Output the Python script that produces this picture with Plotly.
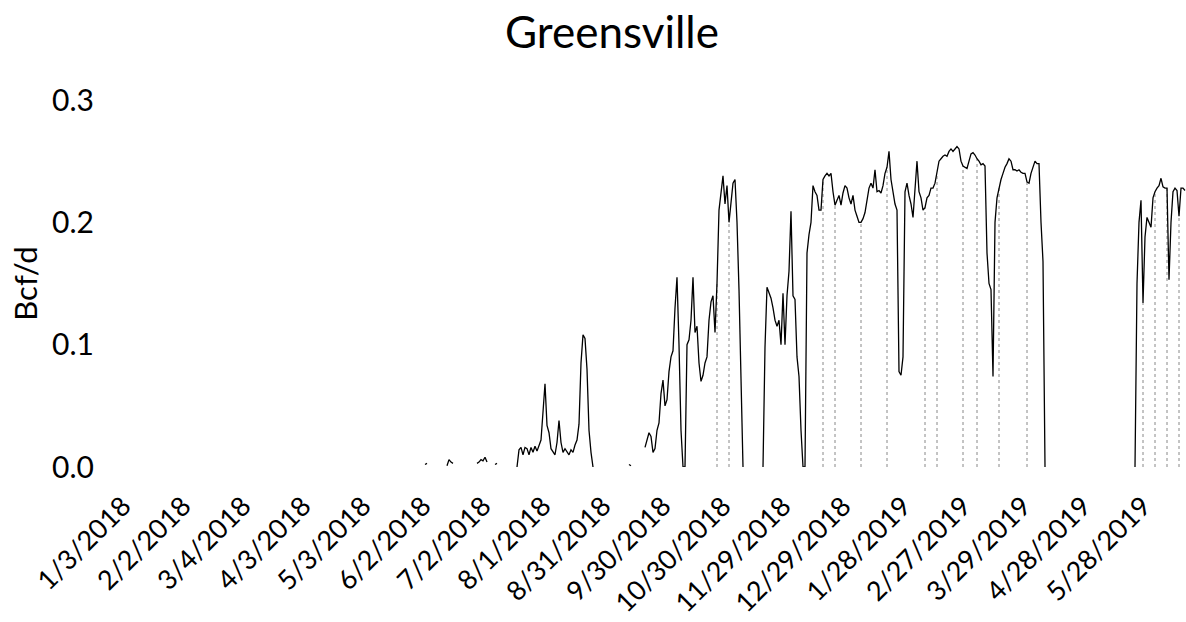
import pandas as pd
import plotly.graph_objects as go

# ---- daily Greensville flow (Bcf/d); each run listed from its first day ----
run_jun_a_start = "2018-06-03"
run_jun_a = [0.002, 0.003]
run_jun_b_start = "2018-06-14"
run_jun_b = [0.001, 0.006, 0.004, 0.003]
run_jun_c_start = "2018-06-29"
run_jun_c = [0.003, 0.004, 0.006, 0.005, 0.008, 0.004]
run_jul_a_start = "2018-07-08"
run_jul_a = [0.002, 0.003]

run_jul_aug_start = "2018-07-19"
run_jul_aug = [0.0, 0.014, 0.016, 0.010, 0.016, 0.015, 0.010, 0.016, 0.012, 0.017,
               0.013, 0.018, 0.022, 0.045, 0.068, 0.034, 0.028, 0.015, 0.012, 0.010,
               0.020, 0.038, 0.020, 0.012, 0.015, 0.012, 0.010, 0.014, 0.012, 0.018,
               0.022, 0.035, 0.085, 0.108, 0.105, 0.080, 0.030, 0.012, 0.0]

run_sep_a_start = "2018-09-13"
run_sep_a = [0.002, 0.001]

run_sep_oct_start = "2018-09-21"
run_sep_oct = [0.016, 0.022, 0.028, 0.025, 0.012, 0.015, 0.030, 0.036, 0.060, 0.071,
               0.050, 0.055, 0.078, 0.090, 0.095, 0.130, 0.155, 0.100, 0.030, 0.0,
               0.0, 0.100, 0.104, 0.120, 0.155, 0.110, 0.115, 0.085, 0.070, 0.075,
               0.085, 0.090, 0.120, 0.135, 0.140, 0.110, 0.150, 0.210, 0.225, 0.238,
               0.215, 0.230, 0.200, 0.215, 0.232, 0.235, 0.200, 0.145, 0.060, 0.0]

run_nov_mar_start = "2018-11-19"
run_nov_mar = [0.0, 0.098, 0.147, 0.142, 0.138, 0.130, 0.120, 0.115, 0.120, 0.100,
               0.142, 0.100, 0.140, 0.160, 0.209, 0.140, 0.137, 0.090, 0.074, 0.030,
               0.0, 0.0, 0.175, 0.190, 0.200, 0.230, 0.225, 0.222, 0.210, 0.210,
               0.235, 0.238, 0.240, 0.238, 0.240, 0.225, 0.214, 0.218, 0.222, 0.214,
               0.224, 0.230, 0.228, 0.220, 0.215, 0.222, 0.210, 0.205, 0.200, 0.200,
               0.203, 0.208, 0.220, 0.228, 0.232, 0.228, 0.243, 0.225, 0.226, 0.224,
               0.230, 0.240, 0.245, 0.258, 0.235, 0.225, 0.215, 0.210, 0.078, 0.075,
               0.090, 0.225, 0.232, 0.222, 0.215, 0.204, 0.228, 0.250, 0.225, 0.220,
               0.210, 0.212, 0.220, 0.222, 0.228, 0.228, 0.232, 0.240, 0.250, 0.252,
               0.254, 0.255, 0.254, 0.258, 0.260, 0.258, 0.260, 0.262, 0.260, 0.250,
               0.246, 0.245, 0.244, 0.250, 0.256, 0.257, 0.255, 0.252, 0.250, 0.247,
               0.248, 0.246, 0.175, 0.150, 0.145, 0.074, 0.200, 0.220, 0.228, 0.235,
               0.240, 0.245, 0.248, 0.252, 0.250, 0.243, 0.243, 0.242, 0.243, 0.241,
               0.240, 0.240, 0.233, 0.232, 0.240, 0.245, 0.250, 0.248, 0.248, 0.200,
               0.168, 0.0]

run_may_jun_start = "2019-05-24"
run_may_jun = [0.0, 0.150, 0.200, 0.218, 0.134, 0.188, 0.204, 0.200, 0.196, 0.220,
               0.225, 0.228, 0.230, 0.236, 0.229, 0.228, 0.228, 0.153, 0.200, 0.225,
               0.228, 0.226, 0.205, 0.228, 0.228, 0.226]

# days on which the flow briefly fell back to zero inside a run
dip_dates = ["2018-10-27", "2018-11-02", "2018-12-19", "2018-12-25", "2019-01-07",
             "2019-01-20", "2019-02-08", "2019-02-14", "2019-02-27", "2019-03-06",
             "2019-03-17", "2019-03-31", "2019-05-28", "2019-06-03", "2019-06-09",
             "2019-06-15"]

tick_labels = ["1/3/2018", "2/2/2018", "3/4/2018", "4/3/2018", "5/3/2018", "6/2/2018",
               "7/2/2018", "8/1/2018", "8/31/2018", "9/30/2018", "10/30/2018",
               "11/29/2018", "12/29/2018", "1/28/2019", "2/27/2019", "3/29/2019",
               "4/28/2019", "5/28/2019"]

runs = [
    (run_jun_a_start, run_jun_a), (run_jun_b_start, run_jun_b),
    (run_jun_c_start, run_jun_c), (run_jul_a_start, run_jul_a),
    (run_jul_aug_start, run_jul_aug), (run_sep_a_start, run_sep_a),
    (run_sep_oct_start, run_sep_oct), (run_nov_mar_start, run_nov_mar),
    (run_may_jun_start, run_may_jun),
]

xs, ys = [], []
for start, vals in runs:
    days = pd.date_range(start, periods=len(vals), freq="D")
    xs.extend(days)
    ys.extend(vals)
    xs.append(None)
    ys.append(None)

flow = pd.Series([v for v in ys if v is not None],
                 index=[d for d in xs if d is not None])

dip_x, dip_y = [], []
for d in dip_dates:
    ts = pd.Timestamp(d)
    dip_x += [ts, ts, None]
    dip_y += [0.0, float(flow[ts]), None]

tick_vals = [pd.to_datetime(t, format="%m/%d/%Y") for t in tick_labels]

FONT = "Lato, 'Open Sans', sans-serif"

fig = go.Figure()
fig.add_trace(go.Scatter(x=dip_x, y=dip_y, mode="lines",
                         line=dict(color="#888888", width=1, dash="dot"),
                         hoverinfo="skip", showlegend=False))
fig.add_trace(go.Scatter(x=xs, y=ys, mode="lines", connectgaps=False,
                         line=dict(color="#000000", width=1.3),
                         showlegend=False, name="Greensville"))

fig.update_layout(
    width=1186, height=622,
    margin=dict(l=123, r=0, t=100, b=155),
    paper_bgcolor="white", plot_bgcolor="white",
    font=dict(family=FONT, color="#000000"),
    title=dict(text="Greensville", x=612 / 1186, xanchor="center",
               y=1 - 33 / 622, yanchor="middle", yref="container",
               font=dict(size=44, family=FONT, color="#000000")),
    xaxis=dict(type="date",
               range=[pd.Timestamp("2018-01-03"), pd.Timestamp("2019-06-18 12:00")],
               tickvals=tick_vals, ticktext=tick_labels, tickangle=-45,
               tickfont=dict(size=27), ticklabelstandoff=17,
               showgrid=False, zeroline=False,
               showline=False, ticks="", automargin=False),
    yaxis=dict(range=[0, 0.3], tickvals=[0, 0.1, 0.2, 0.3],
               ticktext=["0.0", "0.1", "0.2", "0.3"], tickfont=dict(size=30),
               ticklabelstandoff=28,
               showgrid=False, zeroline=False, showline=False, ticks="",
               title=dict(text="Bcf/d", font=dict(size=31), standoff=5),
               automargin=False),
)

fig.write_html("out.html")
